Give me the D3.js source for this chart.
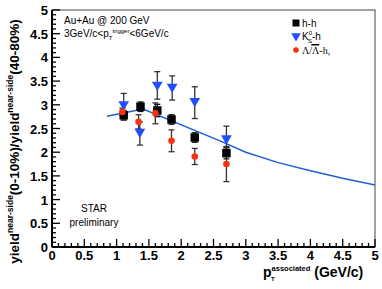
<!DOCTYPE html>
<html><head><meta charset="utf-8">
<script src="https://cdn.jsdelivr.net/npm/d3@7"></script>
<style>body{margin:0;background:#fff;}svg{display:block;font-family:"Liberation Sans",Arial,sans-serif;}</style>
</head><body>
<script>
const hhX=[1.11,1.37,1.63,1.85,2.21,2.70];
const hhY=[2.78,2.96,2.88,2.69,2.31,1.98];
const hhErr=[0.10,0.10,0.13,0.10,0.10,0.12];
const k0X=[1.11,1.36,1.63,1.86,2.21,2.70];
const k0Y=[3.01,2.43,3.42,3.38,3.08,2.29];
const k0Lo=[2.68,2.15,3.12,3.10,2.71,2.09];
const k0Hi=[3.24,2.64,3.70,3.61,3.38,2.55];
const laX=[1.09,1.34,1.60,1.85,2.21,2.70];
const laY=[2.85,2.64,2.82,2.24,1.91,1.75];
const laErr=[0.08,0.15,0.22,0.23,0.17,0.37];
const curveX=[0.85,1.41,2.6,3.0,3.5,4.0,4.5,5.0];
const curveY=[2.76,2.91,2.24,2.0,1.78,1.61,1.45,1.31];
const xTicks=[0,0.5,1,1.5,2,2.5,3,3.5,4,4.5,5];
const yTicks=[0,0.5,1,1.5,2,2.5,3,3.5,4,4.5,5];

const W=382,H=289;
const svg=d3.select("body").append("svg").attr("width",W).attr("height",H);
const x=d3.scaleLinear().domain([0,5]).range([52,375]);
const y=d3.scaleLinear().domain([0,5]).range([247,10]);

// frame
svg.append("rect").attr("x",x(0)).attr("y",y(5)).attr("width",x(5)-x(0)).attr("height",y(0)-y(5))
  .attr("fill","none").attr("stroke","#444").attr("stroke-width",1);

// axes with inward ticks
const minorX=d3.range(0,5.001,0.1);
const gx=svg.append("g");
gx.append("line").attr("x1",x(0)).attr("x2",x(5)).attr("y1",y(0)).attr("y2",y(0)).attr("stroke","#000").attr("stroke-width",2);
minorX.forEach(v=>{const major=Math.abs(v*2-Math.round(v*2))<1e-6;
  gx.append("line").attr("x1",x(v)).attr("x2",x(v)).attr("y1",y(0)).attr("y2",y(0)-(major?8:4)).attr("stroke","#000").attr("stroke-width",1.3);});
xTicks.forEach(v=>gx.append("text").attr("x",x(v)).attr("y",y(0)+13).attr("text-anchor","middle")
  .attr("font-size",13).attr("font-weight","bold").text(v));
const gy=svg.append("g");
gy.append("line").attr("x1",x(0)).attr("x2",x(0)).attr("y1",y(0)).attr("y2",y(5)).attr("stroke","#000").attr("stroke-width",2);
minorX.forEach(v=>{const major=Math.abs(v*2-Math.round(v*2))<1e-6;
  gy.append("line").attr("x1",x(0)).attr("x2",x(0)+(major?8:4)).attr("y1",y(v)).attr("y2",y(v)).attr("stroke","#000").attr("stroke-width",1.3);});
yTicks.forEach(v=>gy.append("text").attr("x",x(0)-4).attr("y",y(v)+5).attr("text-anchor","end")
  .attr("font-size",13).attr("font-weight","bold").text(v));

// axis titles
const yt=svg.append("text").attr("transform",`translate(19,${(y(0)+y(5))/2+13}) rotate(-90)`)
  .attr("text-anchor","middle").attr("font-size",13.5).attr("font-weight","bold");
yt.append("tspan").text("yield");
yt.append("tspan").attr("font-size",8.5).attr("dy",-6).text("near-side");
yt.append("tspan").attr("dy",6).text("(0-10%)/yield");
yt.append("tspan").attr("font-size",8.5).attr("dy",-6).text("near-side");
yt.append("tspan").attr("dy",6).text("(40-80%)");

const xt=svg.append("text").attr("x",263).attr("y",277).attr("font-size",14).attr("font-weight","bold");
xt.append("tspan").text("p");
xt.append("tspan").attr("font-size",7.5).attr("dy",-6).text("associated");
xt.append("tspan").attr("dy",6).text(" (GeV/c)");
svg.append("text").attr("x",271).attr("y",281).attr("font-size",6).attr("font-weight","bold").text("T");

// annotations
svg.append("text").attr("x",64).attr("y",24).attr("font-size",10).text("Au+Au @ 200 GeV");
const tr=svg.append("text").attr("x",64).attr("y",37).attr("font-size",10);
tr.append("tspan").text("3GeV/c<p");
tr.append("tspan").attr("font-size",6).attr("dy",3).text("T");
tr.append("tspan").attr("font-size",6).attr("dy",-7).text("trigger");
tr.append("tspan").attr("dy",4).text("<6GeV/c");
svg.append("text").attr("x",94).attr("y",212).attr("text-anchor","middle").attr("font-size",10).text("STAR");
svg.append("text").attr("x",94).attr("y",226).attr("text-anchor","middle").attr("font-size",10).text("preliminary");

// curve
svg.append("path").datum(curveX.map((v,i)=>[v,curveY[i]]))
  .attr("d",d3.line().x(d=>x(d[0])).y(d=>y(d[1])))
  .attr("fill","none").attr("stroke","#1f5fd6").attr("stroke-width",1.5);

function errbars(xs,lo,hi,col){
  xs.forEach((v,i)=>{
    const g=svg.append("g").attr("stroke",col).attr("stroke-width",1.3);
    g.append("line").attr("x1",x(v)).attr("x2",x(v)).attr("y1",y(lo[i])).attr("y2",y(hi[i]));
    g.append("line").attr("x1",x(v)-3).attr("x2",x(v)+3).attr("y1",y(lo[i])).attr("y2",y(lo[i]));
    g.append("line").attr("x1",x(v)-3).attr("x2",x(v)+3).attr("y1",y(hi[i])).attr("y2",y(hi[i]));
  });
}
errbars(laX,laY.map((v,i)=>v-laErr[i]),laY.map((v,i)=>v+laErr[i]),"#333");
errbars(hhX,hhY.map((v,i)=>v-hhErr[i]),hhY.map((v,i)=>v+hhErr[i]),"#111");
errbars(k0X,k0Lo,k0Hi,"#333");

const sq=d3.symbol().type(d3.symbolSquare).size(72);
const tri=d3.symbol().type(d3.symbolTriangle).size(50);
hhX.forEach((v,i)=>svg.append("path").attr("d",sq).attr("transform",`translate(${x(v)},${y(hhY[i])})`).attr("fill","#000"));
k0X.forEach((v,i)=>svg.append("path").attr("d",tri).attr("transform",`translate(${x(v)},${y(k0Y[i])}) rotate(180)`).attr("fill","#1f4fff"));
laX.forEach((v,i)=>svg.append("circle").attr("cx",x(v)).attr("cy",y(laY[i])).attr("r",3.3).attr("fill","#ff3010"));

// legend
const lg=svg.append("g");
lg.append("path").attr("d",d3.symbol().type(d3.symbolSquare).size(49)).attr("transform","translate(296,23)").attr("fill","#000");
lg.append("text").attr("x",302).attr("y",27).attr("font-size",10).text("h-h");
lg.append("path").attr("d",d3.symbol().type(d3.symbolTriangle).size(40)).attr("transform","translate(296,36) rotate(180)").attr("fill","#1f4fff");
const kl=lg.append("text").attr("x",302).attr("y",40).attr("font-size",10);
kl.append("tspan").text("K");
kl.append("tspan").attr("font-size",6).attr("dy",-5).text("0");
kl.append("tspan").attr("font-size",6).attr("dx",-4).attr("dy",8).text("S");
kl.append("tspan").attr("dy",-3).text("-h");
lg.append("circle").attr("cx",296).attr("cy",50).attr("r",2.8).attr("fill","#ff3010");
const ll=lg.append("text").attr("x",302).attr("y",54).attr("font-size",10).attr("font-family","Liberation Serif,serif");
ll.append("tspan").text("Λ/");
ll.append("tspan").attr("text-decoration","overline").text("Λ");
ll.append("tspan").text("-h,");
lg.append("line").attr("x1",311).attr("x2",319).attr("y1",45).attr("y2",45).attr("stroke","#000").attr("stroke-width",1);
</script>
</body></html>
